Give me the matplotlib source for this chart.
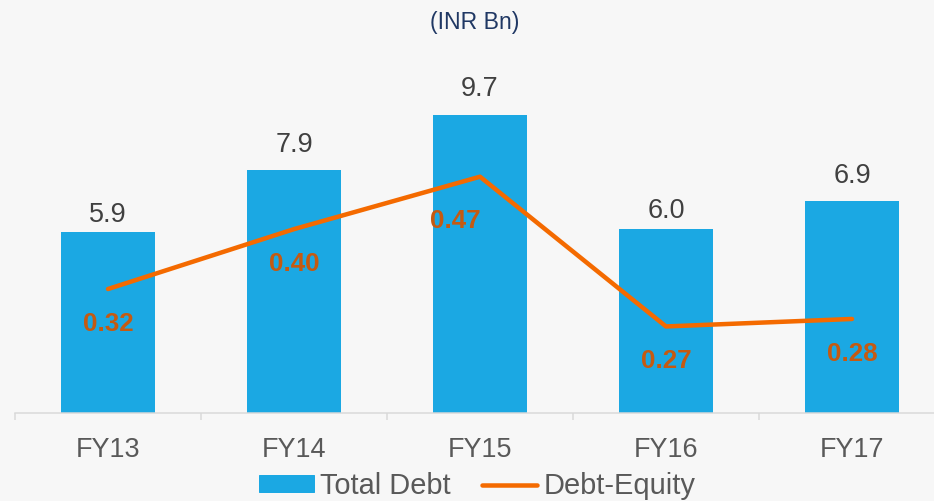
import matplotlib.pyplot as plt
import numpy as np

years = ['FY13', 'FY14', 'FY15', 'FY16', 'FY17']
total_debt = [5.9, 7.9, 9.7, 6.0, 6.9]
debt_equity = [0.32, 0.40, 0.47, 0.27, 0.28]

# label nudges in pixels (dpi 72, so points == pixels)
bar_lbl_dy = [17, 25, 26, 17, 25]
de_lbl_off = [(0, -35), (0, -35), (-25, -44), (0, -35), (0, -35)]

BG = '#F7F7F7'
BLUE = '#1BA8E3'
ORANGE = '#F46A00'
LBL_OR = '#C55A11'
GRID = '#D9D9D9'

plt.rcParams['font.family'] = ['Liberation Sans', 'DejaVu Sans']

W, H = 934, 501
fig = plt.figure(figsize=(W / 72, H / 72), dpi=72, facecolor=BG)

# axes in pixel terms: left 15, width 930 (runs past right edge), bottom 413, top 40
ax = fig.add_axes([15 / W, (H - 413) / H, 930 / W, 373 / H])
ax.set_facecolor(BG)
ax2 = ax.twinx()

x = np.arange(len(years))
ax.bar(x, total_debt, width=0.505, color=BLUE, zorder=2)
ax.set_xlim(-0.5, 4.5)
ax.set_ylim(0, 373 / 30.75)

for xi, v, dy in zip(x, total_debt, bar_lbl_dy):
    ax.annotate(f'{v:.1f}', (xi, v), xytext=(0, dy), textcoords='offset points',
                ha='center', va='center', fontsize=27, color='#404040')

ax2.plot(x, debt_equity, color=ORANGE, lw=4.5, solid_capstyle='round', zorder=3)
ax2.set_ylim(0.1544, 0.6526)
for xi, v, (dx, dy) in zip(x, debt_equity, de_lbl_off):
    ax2.annotate(f'{v:.2f}', (xi, v), xytext=(dx, dy), textcoords='offset points',
                 ha='center', va='center', fontsize=26, fontweight='bold',
                 color=LBL_OR, zorder=4)

# axis styling
for a in (ax, ax2):
    for s in ('top', 'right', 'left'):
        a.spines[s].set_visible(False)
ax2.spines['bottom'].set_visible(False)
ax.spines['bottom'].set_color(GRID)
ax.spines['bottom'].set_linewidth(1.5)
ax.set_yticks([])
ax2.set_yticks([])

ax.set_xticks(np.arange(-0.5, 5, 1.0))
ax.set_xticklabels([])
ax.tick_params(axis='x', which='major', length=7, width=1.5, color=GRID)
ax.set_xticks(x, minor=True)
ax.set_xticklabels(years, minor=True)
ax.tick_params(axis='x', which='minor', length=0, pad=24, labelsize=27,
               labelcolor='#595959')

fig.text(475 / W, 1 - 22 / H, '(INR Bn)', ha='center', va='center',
         fontsize=23, color='#203864')

handles = [plt.Rectangle((0, 0), 1, 1, color=BLUE),
           plt.Line2D([0], [0], color=ORANGE, lw=4.5, solid_capstyle='round')]
leg = fig.legend(handles, ['Total Debt', 'Debt-Equity'], loc='center',
                 bbox_to_anchor=(477 / W, 1 - 486 / H), ncol=2, frameon=False,
                 fontsize=29, handlelength=1.9, handletextpad=0.2,
                 columnspacing=1.1, handleheight=0.5, borderpad=0)
for t in leg.get_texts():
    t.set_color('#595959')

fig.savefig('out.png', dpi=72, facecolor=BG)
